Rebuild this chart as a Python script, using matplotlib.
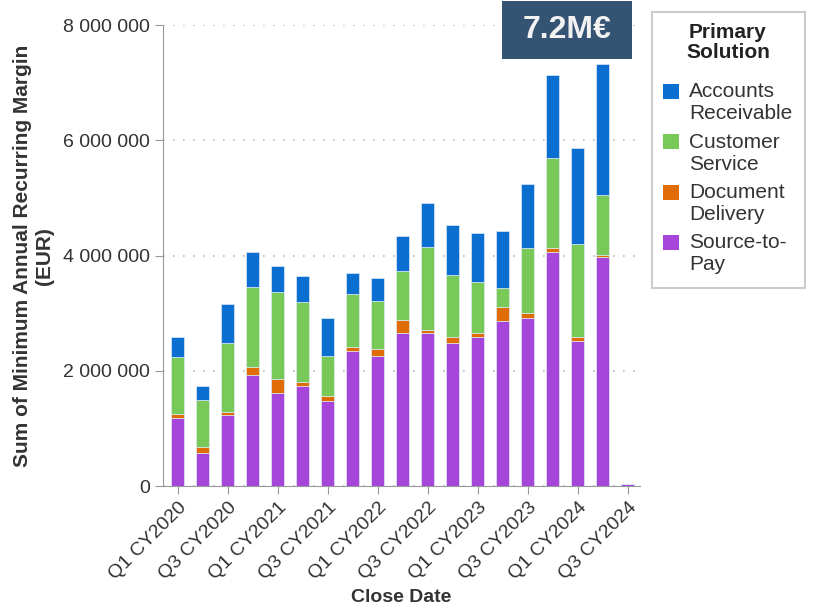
import matplotlib.pyplot as plt
from matplotlib.patches import Rectangle, Patch
from matplotlib.legend_handler import HandlerPatch
import numpy as np

plt.rcParams['font.family'] = ['Liberation Sans', 'DejaVu Sans']

# quarters Q1 CY2020 .. Q3 CY2024
quarters = [f"Q{q} CY{y}" for y in range(2020, 2025) for q in range(1, 5)][:19]

# values in millions EUR
source_to_pay = [1.19, 0.57, 1.23, 1.92, 1.62, 1.74, 1.47, 2.34, 2.26, 2.65,
                 2.65, 2.49, 2.59, 2.86, 2.92, 4.07, 2.52, 3.975, 0.035]
document_delivery = [0.07, 0.11, 0.06, 0.15, 0.24, 0.065, 0.10, 0.07, 0.12, 0.24,
                     0.06, 0.10, 0.06, 0.24, 0.09, 0.06, 0.07, 0.03, 0.0]
customer_service = [0.985, 0.82, 1.20, 1.385, 1.51, 1.385, 0.68, 0.93, 0.84, 0.84,
                    1.445, 1.08, 0.90, 0.33, 1.115, 1.56, 1.62, 1.055, 0.0]
accounts_receivable = [0.335, 0.24, 0.67, 0.605, 0.455, 0.45, 0.67, 0.36, 0.39, 0.605,
                       0.755, 0.87, 0.85, 1.00, 1.115, 1.45, 1.66, 2.26, 0.0]

series = [
    ("Source-to-\nPay", source_to_pay, "#a545da"),
    ("Document\nDelivery", document_delivery, "#e06c06"),
    ("Customer\nService", customer_service, "#78c957"),
    ("Accounts\nReceivable", accounts_receivable, "#0b6fd1"),
]

fig = plt.figure(figsize=(8.17, 6.13), dpi=100)
ax = fig.add_axes([0.1995, 0.207, 0.584, 0.752])

x = np.arange(len(quarters))
bottom = np.zeros(len(quarters))
for name, vals, color in series:
    v = np.array(vals) * 1e6
    ax.bar(x, v, bottom=bottom, width=0.52, color=color,
           edgecolor="#dfe9f5", linewidth=0.5, zorder=3, label=name)
    bottom += v

ax.set_ylim(0, 8e6)
ax.set_xlim(-0.6, 18.5)
yt = [0, 2e6, 4e6, 6e6, 8e6]
ax.set_yticks(yt)
ax.set_yticklabels([f"{int(t):,}".replace(",", " ") for t in yt],
                   fontsize=14, color="#333333")
ax.set_xticks(x[::2])
ax.set_xticklabels(quarters[::2], rotation=45, ha="right", rotation_mode="anchor",
                   fontsize=14, color="#333333")

for sp in ["top", "right"]:
    ax.spines[sp].set_visible(False)
for sp in ["left", "bottom"]:
    ax.spines[sp].set_color("#999999")
ax.tick_params(axis="both", color="#999999", length=6)
ax.yaxis.grid(True, linestyle=(0, (1, 5)), color="#bbbbbb", linewidth=1.2, zorder=0)

ax.set_ylabel("Sum of Minimum Annual Recurring Margin\n(EUR)", fontsize=15,
              fontweight="bold", color="#333333", labelpad=6)
ax.set_xlabel("Close Date", fontsize=14, fontweight="bold", color="#333333", labelpad=4)

# legend: frame + title drawn separately, swatches aligned with first text line
def top_swatch(legend, orig_handle, xdescent, ydescent, width, height, fontsize):
    return Rectangle((-xdescent, -ydescent + 0.55 * fontsize), width, height)

fig.add_artist(Rectangle((0.798, 0.530), 0.187, 0.450, transform=fig.transFigure,
                         facecolor="white", edgecolor="#cccccc", linewidth=1.5))
fig.text(0.891, 0.931, "Primary\nSolution", fontsize=15, fontweight="bold",
         color="#222222", ha="center", va="center", linespacing=1.1)

proxies = [Patch(facecolor=c, edgecolor="none") for _, _, c in series][::-1]
labels = [n for n, _, _ in series][::-1]
leg = fig.legend(proxies, labels, loc="upper left", bbox_to_anchor=(0.812, 0.866),
                 fontsize=15, frameon=False, handlelength=0.75, handleheight=0.75,
                 labelspacing=0.45, borderpad=0, borderaxespad=0, handletextpad=0.5,
                 handler_map={Patch: HandlerPatch(patch_func=top_swatch)})
for t in leg.get_texts():
    t.set_color("#333333")

# highlight box top
fig.add_artist(Rectangle((0.614, 0.904), 0.160, 0.095, transform=fig.transFigure,
                         facecolor="#355373", edgecolor="none"))
fig.text(0.694, 0.951, "7.2M€", fontsize=23, fontweight="bold", color="#f2f2f2",
         ha="center", va="center")

fig.savefig("out.png", dpi=100)
